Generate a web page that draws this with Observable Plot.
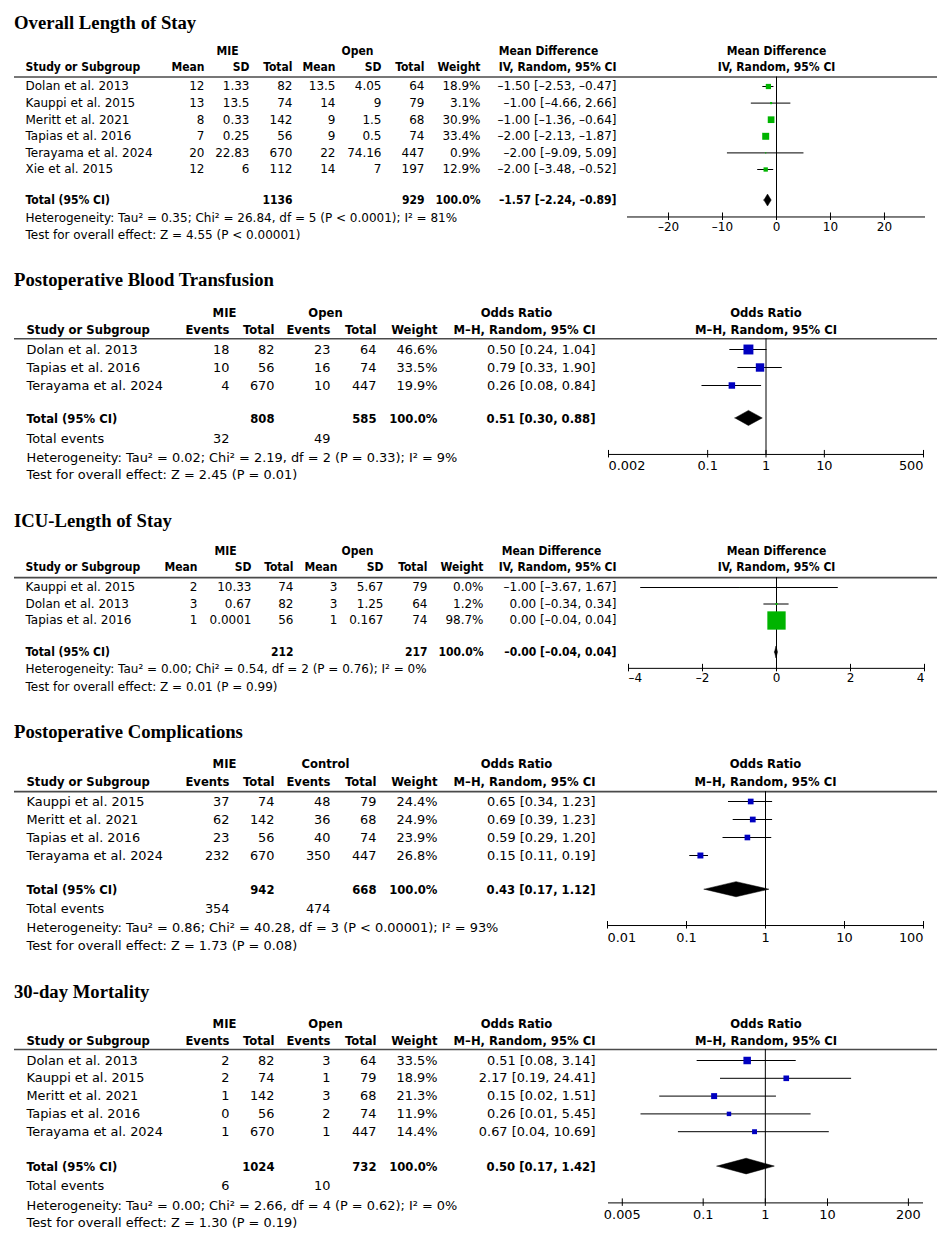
<!DOCTYPE html>
<html><head><meta charset="utf-8">
<script src="https://cdn.jsdelivr.net/npm/d3@7"></script>
<script src="https://cdn.jsdelivr.net/npm/@observablehq/plot@0.6"></script>
<style>
body{margin:0;background:#fff;}
#page{position:relative;width:942px;height:1242px;overflow:hidden;background:#fff;}
.title{position:absolute;left:14px;font-family:"Liberation Serif","Times New Roman",serif;font-weight:bold;font-size:18.7px;line-height:18.7px;white-space:nowrap;color:#000;}
.panel{position:absolute;left:0;}
</style></head>
<body><div id="page"></div>
<script>
// ================= DATA =================
// Panel 1: Overall Length of Stay (Mean Difference, IV, Random, 95% CI)
const losStudies = ["Dolan et al. 2013","Kauppi et al. 2015","Meritt et al. 2021","Tapias et al. 2016","Terayama et al. 2024","Xie et al. 2015"];
const losMieMean = [12, 13, 8, 7, 20, 12];
const losMieSD = [1.33, 13.5, 0.33, 0.25, 22.83, 6];
const losMieN = [82, 74, 142, 56, 670, 112];
const losOpenMean = [13.5, 14, 9, 9, 22, 14];
const losOpenSD = [4.05, 9, 1.5, 0.5, 74.16, 7];
const losOpenN = [64, 79, 68, 74, 447, 197];
const losWeight = [18.9, 3.1, 30.9, 33.4, 0.9, 12.9];
const losMD = [-1.50, -1.00, -1.00, -2.00, -2.00, -2.00];
const losLo = [-2.53, -4.66, -1.36, -2.13, -9.09, -3.48];
const losHi = [-0.47, 2.66, -0.64, -1.87, 5.09, -0.52];
const losTotalN = [1136, 929];
const losPooled = [-1.57, -2.24, -0.89];
const losHet = "Heterogeneity: Tau² = 0.35; Chi² = 26.84, df = 5 (P < 0.0001); I² = 81%";
const losTest = "Test for overall effect: Z = 4.55 (P < 0.00001)";
const losTicks = [-20, -10, 0, 10, 20];

// Panel 2: Postoperative Blood Transfusion (Odds Ratio, M-H, Random)
const btStudies = ["Dolan et al. 2013","Tapias et al. 2016","Terayama et al. 2024"];
const btMieEv = [18, 10, 4];
const btMieN = [82, 56, 670];
const btOpenEv = [23, 16, 10];
const btOpenN = [64, 74, 447];
const btWeight = [46.6, 33.5, 19.9];
const btOR = [0.50, 0.79, 0.26];
const btLo = [0.24, 0.33, 0.08];
const btHi = [1.04, 1.90, 0.84];
const btTotalN = [808, 585];
const btTotalEv = [32, 49];
const btPooled = [0.51, 0.30, 0.88];
const btHet = "Heterogeneity: Tau² = 0.02; Chi² = 2.19, df = 2 (P = 0.33); I² = 9%";
const btTest = "Test for overall effect: Z = 2.45 (P = 0.01)";
const btTicks = [0.002, 0.1, 1, 10, 500];

// Panel 3: ICU-Length of Stay (Mean Difference)
const icuStudies = ["Kauppi et al. 2015","Dolan et al. 2013","Tapias et al. 2016"];
const icuMieMean = [2, 3, 1];
const icuMieSD = [10.33, 0.67, 0.0001];
const icuMieN = [74, 82, 56];
const icuOpenMean = [3, 3, 1];
const icuOpenSD = [5.67, 1.25, 0.167];
const icuOpenN = [79, 64, 74];
const icuWeight = [0.04, 1.2, 98.7];
const icuMD = [-1.00, 0.00, 0.00];
const icuLo = [-3.67, -0.34, -0.04];
const icuHi = [1.67, 0.34, 0.04];
const icuTotalN = [212, 217];
const icuPooled = [-0.001, -0.04, 0.04];
const icuHet = "Heterogeneity: Tau² = 0.00; Chi² = 0.54, df = 2 (P = 0.76); I² = 0%";
const icuTest = "Test for overall effect: Z = 0.01 (P = 0.99)";
const icuTicks = [-4, -2, 0, 2, 4];

// Panel 4: Postoperative Complications (Odds Ratio)
const compStudies = ["Kauppi et al. 2015","Meritt et al. 2021","Tapias et al. 2016","Terayama et al. 2024"];
const compMieEv = [37, 62, 23, 232];
const compMieN = [74, 142, 56, 670];
const compCtlEv = [48, 36, 40, 350];
const compCtlN = [79, 68, 74, 447];
const compWeight = [24.4, 24.9, 23.9, 26.8];
const compOR = [0.65, 0.69, 0.59, 0.15];
const compLo = [0.34, 0.39, 0.29, 0.11];
const compHi = [1.23, 1.23, 1.20, 0.19];
const compTotalN = [942, 668];
const compTotalEv = [354, 474];
const compPooled = [0.43, 0.17, 1.12];
const compHet = "Heterogeneity: Tau² = 0.86; Chi² = 40.28, df = 3 (P < 0.00001); I² = 93%";
const compTest = "Test for overall effect: Z = 1.73 (P = 0.08)";
const compTicks = [0.01, 0.1, 1, 10, 100];

// Panel 5: 30-day Mortality (Odds Ratio)
const mortStudies = ["Dolan et al. 2013","Kauppi et al. 2015","Meritt et al. 2021","Tapias et al. 2016","Terayama et al. 2024"];
const mortMieEv = [2, 2, 1, 0, 1];
const mortMieN = [82, 74, 142, 56, 670];
const mortOpenEv = [3, 1, 3, 2, 1];
const mortOpenN = [64, 79, 68, 74, 447];
const mortWeight = [33.5, 18.9, 21.3, 11.9, 14.4];
const mortOR = [0.51, 2.17, 0.15, 0.26, 0.67];
const mortLo = [0.08, 0.19, 0.02, 0.01, 0.04];
const mortHi = [3.14, 24.41, 1.51, 5.45, 10.69];
const mortTotalN = [1024, 732];
const mortTotalEv = [6, 10];
const mortPooled = [0.50, 0.17, 1.42];
const mortHet = "Heterogeneity: Tau² = 0.00; Chi² = 2.66, df = 4 (P = 0.62); I² = 0%";
const mortTest = "Test for overall effect: Z = 1.30 (P = 0.19)";
const mortTicks = [0.005, 0.1, 1, 10, 200];

// ================= LAYOUT / STYLE =================
const FONT = "DejaVu Sans";
const BOLD = "'DejaVu Sans Condensed', 'DejaVu Sans'";
const GREEN = "#00b400", BLUE = "#0000c0";
const MD_NAME = "Mean Difference", MD_METHOD = "IV, Random, 95% CI";
const OR_NAME = "Odds Ratio", OR_METHOD = "M\u2013H, Random, 95% CI";

const contCols = (mm, ms, mn, om, os, on, tot, xs) => [
  {x: xs[0], header: "Mean", values: mm},
  {x: xs[1], header: "SD", values: ms},
  {x: xs[2], header: "Total", values: mn, total: tot[0]},
  {x: xs[3], header: "Mean", values: om},
  {x: xs[4], header: "SD", values: os},
  {x: xs[5], header: "Total", values: on, total: tot[1]}
];
const binCols = (me, mn, oe, on, tot, ev) => [
  {x: 229, header: "Events", values: me, events: ev[0]},
  {x: 274, header: "Total", values: mn, total: tot[0]},
  {x: 330, header: "Events", values: oe, events: ev[1]},
  {x: 376, header: "Total", values: on, total: tot[1]}
];

const panels = [
  {
    title: "Overall Length of Stay", titleBaseline: 30,
    top: 40, height: 205, off: 46, unit: 16.6, fs: 12,
    rowsY: {h1: -2.1, h2: -1.15, rule: -0.57, total: 6.87, het: 7.95, test: 8.98, axis: 7.86, labels: 8.5},
    x: {type: "linear", domain: [-27.6, 27.6], range: [627, 925]}, ticks: losTicks, nullValue: 0,
    studies: losStudies, studyX: 25,
    cols: contCols(losMieMean, losMieSD, losMieN, losOpenMean, losOpenSD, losOpenN, losTotalN, [204, 249, 292, 335, 381, 424]),
    groups: [{label: "MIE", x: 227}, {label: "Open", x: 357}],
    weightX: 480, weights: losWeight,
    effX: 616, effHdrX: 548, effName: MD_NAME, effMethod: MD_METHOD,
    est: losMD, lo: losLo, hi: losHi, pooled: losPooled,
    het: losHet, test: losTest, color: GREEN, rMax: 6.8, diamondH: 0.36
  },
  {
    title: "Postoperative Blood Transfusion", titleBaseline: 287,
    top: 298, height: 187, off: 51, unit: 18, fs: 12.9,
    rowsY: {h1: -2.05, h2: -1.1, rule: -0.6, total: 3.83, events: 4.94, het: 6.0, test: 6.94, axis: 5.83, labels: 6.45},
    x: {type: "log", domain: [0.002, 500], range: [608, 923]}, ticks: btTicks, nullValue: 1,
    studies: btStudies, studyX: 26,
    cols: binCols(btMieEv, btMieN, btOpenEv, btOpenN, btTotalN, btTotalEv),
    groups: [{label: "MIE", x: 224}, {label: "Open", x: 325}],
    weightX: 437, weights: btWeight,
    effX: 595, effHdrX: 516, effName: OR_NAME, effMethod: OR_METHOD,
    est: btOR, lo: btLo, hi: btHi, pooled: btPooled,
    het: btHet, test: btTest, color: BLUE, rMax: 8.2, diamondH: 0.42
  },
  {
    title: "ICU-Length of Stay", titleBaseline: 528,
    top: 538, height: 160, off: 49, unit: 16.5, fs: 12,
    rowsY: {h1: -2.18, h2: -1.21, rule: -0.6, total: 3.94, het: 4.97, test: 6.06, axis: 4.9, labels: 5.5},
    x: {type: "linear", domain: [-4, 4], range: [628, 924]}, ticks: icuTicks, nullValue: 0,
    studies: icuStudies, studyX: 25,
    cols: contCols(icuMieMean, icuMieSD, icuMieN, icuOpenMean, icuOpenSD, icuOpenN, icuTotalN, [197, 251, 293, 337, 383, 427]),
    groups: [{label: "MIE", x: 225}, {label: "Open", x: 357}],
    weightX: 483, weights: icuWeight,
    effX: 616, effHdrX: 551, effName: MD_NAME, effMethod: MD_METHOD,
    est: icuMD, lo: icuLo, hi: icuHi, pooled: icuPooled,
    het: icuHet, test: icuTest, color: GREEN, rMax: 10.4, diamondH: 0.36
  },
  {
    title: "Postoperative Complications", titleBaseline: 739,
    top: 750, height: 206, off: 51, unit: 18, fs: 12.9,
    rowsY: {h1: -2.1, h2: -1.1, rule: -0.55, total: 4.9, events: 5.94, het: 7.0, test: 8.0, axis: 6.89, labels: 7.55},
    x: {type: "log", domain: [0.01, 100], range: [607, 923]}, ticks: compTicks, nullValue: 1,
    studies: compStudies, studyX: 26,
    cols: binCols(compMieEv, compMieN, compCtlEv, compCtlN, compTotalN, compTotalEv),
    groups: [{label: "MIE", x: 224}, {label: "Control", x: 325}],
    weightX: 437, weights: compWeight,
    effX: 595, effHdrX: 516, effName: OR_NAME, effMethod: OR_METHOD,
    est: compOR, lo: compLo, hi: compHi, pooled: compPooled,
    het: compHet, test: compTest, color: BLUE, rMax: 6.5, diamondH: 0.42
  },
  {
    title: "30-day Mortality", titleBaseline: 999,
    top: 1010, height: 230, off: 50, unit: 17.8, fs: 12.9,
    rowsY: {h1: -2.08, h2: -1.12, rule: -0.62, total: 5.96, events: 7.03, het: 8.15, test: 9.1, axis: 8.0, labels: 8.67},
    x: {type: "log", domain: [0.003, 350], range: [608, 923]}, ticks: mortTicks, nullValue: 1,
    studies: mortStudies, studyX: 26,
    cols: binCols(mortMieEv, mortMieN, mortOpenEv, mortOpenN, mortTotalN, mortTotalEv),
    groups: [{label: "MIE", x: 224}, {label: "Open", x: 325}],
    weightX: 437, weights: mortWeight,
    effX: 595, effHdrX: 516, effName: OR_NAME, effMethod: OR_METHOD,
    est: mortOR, lo: mortLo, hi: mortHi, pooled: mortPooled,
    het: mortHet, test: mortTest, color: BLUE, rMax: 7.3, diamondH: 0.44
  }
];

// ================= BUILD =================
const fmt2 = v => v.toFixed(2).replace("-", "\u2013");
const effTxt = (e, l, h) => `${fmt2(e)} [${fmt2(l)}, ${fmt2(h)}]`;

function build(p) {
  const ML = 14, MR = 5, W = 942;
  const R = p.rowsY;
  const yDom = [-p.off / p.unit, (p.height - p.off) / p.unit];
  const study = p.studies.map((s, i) => ({y: i, est: p.est[i], lo: p.lo[i], hi: p.hi[i], w: p.weights[i]}));
  const reg = {fontFamily: FONT, fontWeight: "normal", fontSize: p.fs};
  const bold = {fontFamily: BOLD, fontWeight: "bold", fontSize: p.fs};
  const T = (items, x, anchor, st) => Plot.text(items, {y: "y", text: "t", frameAnchor: "left", dx: x - ML, textAnchor: anchor, fill: "#000", ...st});
  const marks = [];

  // header rule, null line, axis
  marks.push(Plot.ruleY([R.rule], {y: d => d, stroke: "#4a4a4a", strokeWidth: 1.6}));
  marks.push(Plot.ruleX([p.nullValue], {x: d => d, y1: () => R.rule, y2: () => R.axis, stroke: "#000"}));
  marks.push(Plot.ruleY([{y: R.axis, x1: p.x.domain[0], x2: p.x.domain[1]}], {y: "y", x1: "x1", x2: "x2", stroke: "#000"}));
  marks.push(Plot.ruleX(p.ticks, {x: d => d, y1: () => R.axis - 4 / p.unit, y2: () => R.axis + 3.5 / p.unit, stroke: "#000"}));
  const d0 = p.x.domain[0], d1 = p.x.domain[1];
  const lab = d => String(d).replace("-", "\u2013");
  const tl = (arr, anchor) => Plot.text(arr, {x: d => d, y: () => R.labels, text: d => lab(d), textAnchor: anchor, fill: "#000", ...reg});
  marks.push(tl(p.ticks.filter(v => v === d0), "start"));
  marks.push(tl(p.ticks.filter(v => v !== d0 && v !== d1), "middle"));
  marks.push(tl(p.ticks.filter(v => v === d1), "end"));

  // study column
  const sItems = p.studies.map((s, i) => ({y: i, t: s}));
  if (R.events !== undefined) sItems.push({y: R.events, t: "Total events"});
  marks.push(T(sItems, p.studyX, "start", reg));
  marks.push(T([{y: R.h2, t: "Study or Subgroup"}, {y: R.total, t: "Total (95% CI)"}], p.studyX, "start", bold));

  // numeric columns
  for (const c of p.cols) {
    const items = c.values.map((v, i) => ({y: i, t: String(v)}));
    if (c.events !== undefined) items.push({y: R.events, t: String(c.events)});
    marks.push(T(items, c.x, "end", reg));
    const b = [{y: R.h2, t: c.header}];
    if (c.total !== undefined) b.push({y: R.total, t: String(c.total)});
    marks.push(T(b, c.x, "end", bold));
  }
  for (const g of p.groups) marks.push(T([{y: R.h1, t: g.label}], g.x, "middle", bold));

  // weight column
  marks.push(T(p.weights.map((w, i) => ({y: i, t: w.toFixed(1) + "%"})), p.weightX, "end", reg));
  marks.push(T([{y: R.h2, t: "Weight"}, {y: R.total, t: "100.0%"}], p.weightX, "end", bold));

  // effect column
  marks.push(T(study.map(d => ({y: d.y, t: effTxt(d.est, d.lo, d.hi)})), p.effX, "end", reg));
  marks.push(T([{y: R.h2, t: p.effMethod}, {y: R.total, t: effTxt(...p.pooled)}], p.effX, "end", bold));
  marks.push(T([{y: R.h1, t: p.effName}], p.effHdrX, "middle", bold));

  // footer lines
  marks.push(T([{y: R.het, t: p.het}, {y: R.test, t: p.test}], p.studyX, "start", reg));

  // plot header
  const center = p.x.type === "log" ? Math.sqrt(d0 * d1) : (d0 + d1) / 2;
  marks.push(Plot.text([{y: R.h1, t: p.effName}, {y: R.h2, t: p.effMethod}], {x: () => center, y: "y", text: "t", textAnchor: "middle", fill: "#000", ...bold}));

  // CI lines, squares, diamond
  marks.push(Plot.ruleY(study, {y: "y", x1: "lo", x2: "hi", stroke: "#000", strokeWidth: 1}));
  marks.push(Plot.dot(study, {x: "est", y: "y", r: "w", symbol: "square", fill: p.color, stroke: "none"}));
  const [pe, pl, ph] = p.pooled, h = p.diamondH;
  marks.push(Plot.areaY([
    {x: pl, a: R.total, b: R.total},
    {x: pe, a: R.total - h, b: R.total + h},
    {x: ph, a: R.total, b: R.total}
  ], {x: "x", y1: "a", y2: "b", fill: "#000", stroke: "#000", strokeWidth: 0.5}));

  return Plot.plot({
    width: W, height: p.height,
    marginLeft: ML, marginRight: MR, marginTop: 0, marginBottom: 0,
    x: {...p.x, axis: null},
    y: {domain: yDom, range: [0, p.height], axis: null},
    r: {type: "sqrt", domain: [0, 100], range: [0, p.rMax]},
    style: {background: "white", color: "black", overflow: "visible", fontFamily: FONT},
    marks
  });
}

const page = document.getElementById("page");
for (const p of panels) {
  const t = document.createElement("div");
  t.className = "title";
  t.textContent = p.title;
  t.style.top = (p.titleBaseline - 15.7) + "px";
  page.appendChild(t);
  const wrap = document.createElement("div");
  wrap.className = "panel";
  wrap.style.top = p.top + "px";
  wrap.appendChild(build(p));
  page.appendChild(wrap);
}
</script>
</body></html>
